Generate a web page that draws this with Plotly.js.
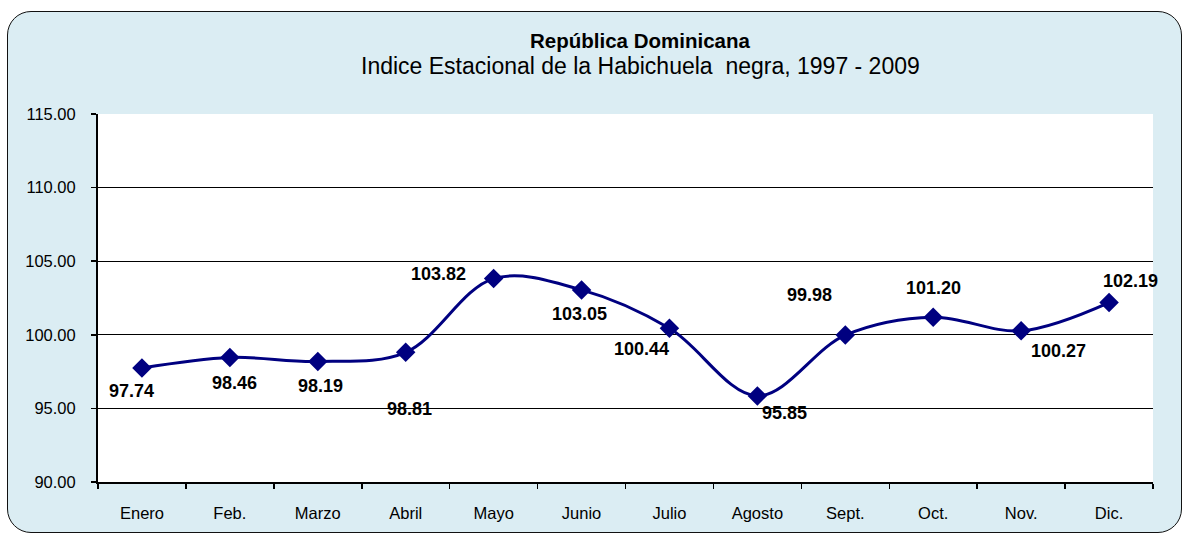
<!DOCTYPE html>
<html>
<head>
<meta charset="utf-8">
<script src="https://cdn.plot.ly/plotly-3.0.1.min.js"></script>
<style>
html,body{margin:0;padding:0;background:#fff;}
#frame{position:absolute;left:7px;top:11px;width:1173px;height:520px;background:#DBEDF3;border:1.5px solid #111;border-radius:24px;}
#chart{position:absolute;left:0;top:0;width:1186px;height:535px;}
</style>
</head>
<body>
<div id="frame"></div>
<div id="chart"></div>
<script>
const months = ["Enero","Feb.","Marzo","Abril","Mayo","Junio","Julio","Agosto","Sept.","Oct.","Nov.","Dic."];
const indexValues = [97.74, 98.46, 98.19, 98.81, 103.82, 103.05, 100.44, 95.85, 99.98, 101.20, 100.27, 102.19];
const yTicks = [90, 95, 100, 105, 110, 115];
// label offsets in pixels (dx, dy) relative to each point
const labelOffsets = [[-10,-23],[5,-26],[3,-25],[4,-57],[-55,5],[-2,-24],[-28,-21],[27,-17],[-36,40],[0,29],[37,-20],[21,22]];

const trace = {
  x: months,
  y: indexValues,
  type: 'scatter',
  mode: 'lines+markers',
  line: {color: '#000080', width: 3, shape: 'spline', smoothing: 1},
  marker: {symbol: 'diamond', size: 15, color: '#000080'},
  hoverinfo: 'x+y'
};

const annotations = indexValues.map((v, i) => ({
  x: months[i], y: v, xref: 'x', yref: 'y',
  text: v.toFixed(2), showarrow: false,
  xshift: labelOffsets[i][0], yshift: labelOffsets[i][1],
  font: {family: 'Liberation Sans, Arial, sans-serif', size: 18, color: '#000', weight: 'bold'}
}));

annotations.push({
  xref: 'paper', yref: 'paper', x: 0.5, y: 1, yanchor: 'middle', yshift: 74, xshift: 14,
  text: '<b>República Dominicana</b>', showarrow: false,
  font: {family: 'Liberation Sans, Arial, sans-serif', size: 20.5, color: '#000'}
});
annotations.push({
  xref: 'paper', yref: 'paper', x: 0.5, y: 1, yanchor: 'middle', yshift: 48, xshift: 15,
  text: 'Indice Estacional de la Habichuela  negra, 1997 - 2009', showarrow: false,
  font: {family: 'Liberation Sans, Arial, sans-serif', size: 23, color: '#000'}
});

const layout = {
  width: 1186, height: 535,
  margin: {l: 98, r: 33, t: 114, b: 53},
  paper_bgcolor: 'rgba(0,0,0,0)',
  plot_bgcolor: '#ffffff',
  showlegend: false,
  font: {family: 'Liberation Sans, Arial, sans-serif', size: 16.5, color: '#000'},
  xaxis: {
    type: 'category',
    categoryorder: 'array', categoryarray: months,
    range: [-0.5, 11.5],
    showline: true, linecolor: '#000', linewidth: 2,
    ticks: 'outside', tickson: 'boundaries', ticklen: 5, tickwidth: 1.5, tickcolor: '#000',
    showgrid: false, zeroline: false,
    ticklabelstandoff: 15,
    tickfont: {size: 16.5}
  },
  yaxis: {
    range: [90, 115],
    tickvals: yTicks,
    ticktext: yTicks.map(v => v.toFixed(2)),
    showline: true, linecolor: '#000', linewidth: 2,
    ticks: 'outside', ticklen: 5, tickwidth: 1.5, tickcolor: '#000',
    showgrid: true, gridcolor: '#000', gridwidth: 1.2,
    zeroline: false,
    ticklabelstandoff: 12,
    tickfont: {size: 16.5}
  },
  annotations: annotations
};

Plotly.newPlot('chart', [trace], layout, {displayModeBar: false, staticPlot: true});
</script>
</body>
</html>
